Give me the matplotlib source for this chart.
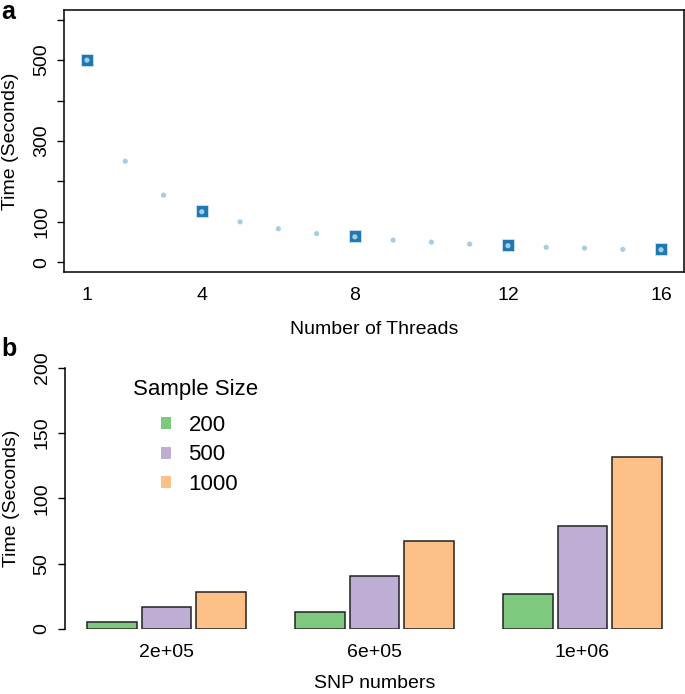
# Figure: panel a thread scaling, panel b bars by SNP numbers
import numpy as np
import matplotlib
matplotlib.use("Agg")
import matplotlib.pyplot as plt
from matplotlib.patches import Patch

plt.rcParams['font.family'] = ['Liberation Sans', 'DejaVu Sans']

# Panel a data
threads = [1, 2, 3, 4, 5, 6, 7, 8, 9, 10, 11, 12, 13, 14, 15, 16]
time_all = [500, 250, 166, 125, 100, 83, 71, 63, 55, 50, 45, 41, 37, 35, 32, 31]
threads_main = [1, 4, 8, 12, 16]
time_main = [500, 128, 65, 44, 33]
thread_ticks = [1, 4, 8, 12, 16]

# Panel b data
snp_labels = ['2e+05', '6e+05', '1e+06']
sample_sizes = ['200', '500', '1000']
time_200 = [5.6, 13.3, 26.5]
time_500 = [17.0, 40.6, 78.6]
time_1000 = [28.5, 67.3, 131.9]

bar_colors = ['#7FC97F', '#BEAED4', '#FDC086']
light_blue = '#A6CEE3'
dark_blue = '#1F78B4'

W, H = 685, 694
fig = plt.figure(figsize=(W / 100, H / 100), dpi=100)

def frac(x0, x1, ytop, ybot):
    return [x0 / W, 1 - ybot / H, (x1 - x0) / W, (ybot - ytop) / H]

# ---------- panel a ----------
ax1 = fig.add_axes(frac(64, 684, 10, 272))
ax1.scatter(threads_main, time_main, marker='s', s=80, color=dark_blue,
            edgecolors='#cfe3f2', linewidths=0.6, zorder=2)
ax1.scatter(threads, time_all, marker='o', s=14, color=light_blue,
            edgecolors='none', zorder=3)
ax1.set_xlim(0.4, 16.6)
ax1.set_ylim(-24, 624)
ax1.set_xticks(thread_ticks)
ax1.set_xticklabels([str(t) for t in thread_ticks])
ax1.set_yticks(np.arange(0, 700, 100))
ax1.set_yticklabels(['0', '100', '', '300', '', '500', ''])
ax1.tick_params(axis='x', length=0, pad=11, labelsize=14)
ax1.tick_params(axis='y', length=5, width=1, pad=5, labelsize=14,
                labelrotation=90)
for lab in ax1.get_yticklabels():
    lab.set_va('center')
for sp in ax1.spines.values():
    sp.set_linewidth(1.1)
ax1.set_xlabel('Number of Threads', fontsize=14, labelpad=12)
ax1.set_ylabel('Time (Seconds)', fontsize=14, labelpad=10)
fig.text(1 / W, 1 - 0 / H, 'a', fontsize=18, fontweight='bold', va='top')

# ---------- panel b ----------
ax2 = fig.add_axes(frac(64.5, 684.6, 367.7, 629))
n_groups = len(snp_labels)
group_step = 3 + 2 * 0.1 + 1
bar_series = [time_200, time_500, time_1000]
group_left = 1 + np.arange(n_groups) * group_step
for j, vals in enumerate(bar_series):
    centers = group_left + j * 1.1 + 0.5
    ax2.bar(centers, vals, width=1.0, color=bar_colors[j],
            edgecolor='#222222', linewidth=1.1, zorder=2)
ax2.set_xlim(0.536, 13.064)
ax2.set_ylim(0, 200)
ax2.set_xticks(group_left + 1.1 + 0.5)
ax2.set_xticklabels(snp_labels)
ax2.set_yticks([0, 50, 100, 150, 200])
ax2.tick_params(axis='x', length=0, pad=11, labelsize=14)
ax2.tick_params(axis='y', length=5, width=1, pad=5, labelsize=14,
                labelrotation=90)
for lab in ax2.get_yticklabels():
    lab.set_va('center')
for s in ['top', 'right', 'bottom']:
    ax2.spines[s].set_visible(False)
ax2.spines['left'].set_linewidth(1.1)
ax2.set_xlabel('SNP numbers', fontsize=14, labelpad=10)
ax2.set_ylabel('Time (Seconds)', fontsize=14, labelpad=10)

handles = [Patch(facecolor=c, edgecolor='none') for c in bar_colors]
leg = ax2.legend(handles, sample_sizes, frameon=False,
                 fontsize=16, loc='center left',
                 bbox_to_anchor=(0.123, 0.666), handlelength=0.45,
                 handleheight=0.45, handletextpad=0.8, labelspacing=0.38)
ax2.text(0.211, 0.918, 'Sample Size', transform=ax2.transAxes,
         fontsize=16, ha='center', va='center')
fig.text(1 / W, 1 - 337 / H, 'b', fontsize=18, fontweight='bold', va='top')

fig.savefig('out.png', dpi=100)
